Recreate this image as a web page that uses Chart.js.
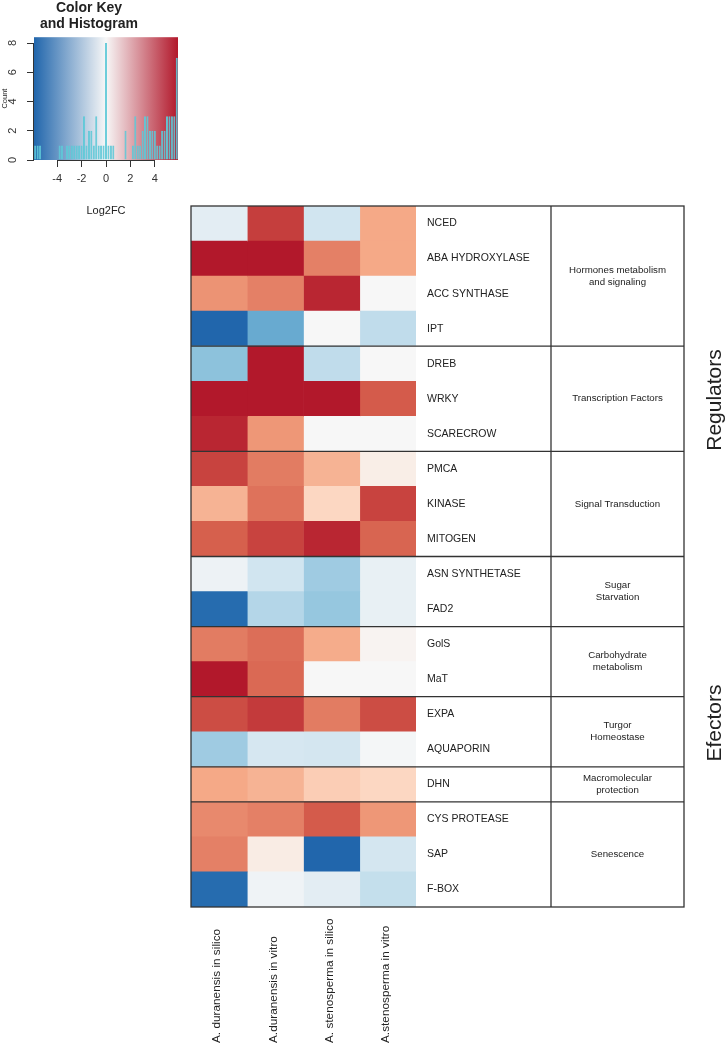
<!DOCTYPE html>
<html>
<head>
<meta charset="utf-8">
<script src="https://cdn.jsdelivr.net/npm/chart.js@4.4.1/dist/chart.umd.min.js"></script>
<style>
  html, body { margin: 0; padding: 0; background: #fff; }
  #wrap { position: relative; width: 728px; height: 1046px; overflow: hidden; }
  canvas { position: absolute; left: 0; top: 0; }
</style>
</head>
<body>
<div id="wrap">
  <canvas id="heat" width="728" height="1046"></canvas>
  <canvas id="key" width="212" height="222"></canvas>
</div>
<script>
// genes (rows, top to bottom)
const genes = ['NCED', 'ABA HYDROXYLASE', 'ACC SYNTHASE', 'IPT', 'DREB', 'WRKY', 'SCARECROW',
  'PMCA', 'KINASE', 'MITOGEN', 'ASN SYNTHETASE', 'FAD2', 'GolS', 'MaT', 'EXPA', 'AQUAPORIN',
  'DHN', 'CYS PROTEASE', 'SAP', 'F-BOX'];

const columns = ['A. duranensis in silico', 'A.duranensis in vitro',
  'A. stenosperma in silico', 'A.stenosperma in vitro'];

// log2FC per column
const aDurSilico  = [-0.8, 6.0, 3.4, -6.0, -3.1, 6.0, 5.7, 5.1, 2.6, 4.5, -0.4, -5.8, 3.9, 6.0, 4.9, -2.7, 2.9, 3.6, 3.8, -5.8];
const aDurVitro   = [5.2, 6.0, 3.8, -3.8, 6.0, 6.0, 3.3, 3.9, 4.1, 5.1, -1.5, -2.2, 4.2, 4.3, 5.3, -1.3, 2.6, 3.8, 0.6, -0.3];
const aStenSilico = [-1.5, 3.8, 5.7, 0.0, -1.9, 6.0, 0.0, 2.6, 1.6, 5.7, -2.7, -2.9, 2.8, 0.0, 3.9, -1.4, 1.9, 4.6, -6.0, -0.8];
const aStenVitro  = [2.9, 2.9, 0.0, -1.9, 0.0, 4.6, 0.0, 0.5, 5.1, 4.4, -0.6, -0.6, 0.2, 0.0, 4.9, -0.1, 1.6, 3.3, -1.4, -1.8];

// functional groups (label lines, number of genes)
const groupNames = [['Hormones metabolism', 'and signaling'], ['Transcription Factors'], ['Signal Transduction'],
  ['Sugar', 'Starvation'], ['Carbohydrate', 'metabolism'], ['Turgor', 'Homeostase'],
  ['Macromolecular', 'protection'], ['Senescence']];
const groupSizes = [4, 3, 3, 2, 2, 2, 1, 3];
const blockNames = ['Regulators', 'Efectors'];

// colour key histogram
const histBins = [-5.8, -5.6, -5.4, -5.2, -5.0, -4.8, -4.6, -4.4, -4.2, -4.0, -3.8, -3.6, -3.4, -3.2, -3.0,
  -2.8, -2.6, -2.4, -2.2, -2.0, -1.8, -1.6, -1.4, -1.2, -1.0, -0.8, -0.6, -0.4, -0.2, 0,
  0.2, 0.4, 0.6, 0.8, 1.0, 1.2, 1.4, 1.6, 1.8, 2.0, 2.2, 2.4, 2.6, 2.8, 3.0, 3.2, 3.4, 3.6, 3.8,
  4.0, 4.2, 4.4, 4.6, 4.8, 5.0, 5.2, 5.4, 5.6, 5.8];
const histCounts = [1, 1, 1, 0, 0, 0, 0, 0, 0, 0, 1, 1, 0, 1, 1, 1, 1, 1, 1, 1, 3, 1, 2, 2, 1, 3, 1, 1, 1, 8,
  1, 1, 1, 0, 0, 0, 0, 2, 0, 0, 1, 3, 1, 1, 2, 3, 3, 2, 2, 2, 1, 1, 2, 2, 3, 3, 3, 3, 7];
const keyTicksX = [-4, -2, 0, 2, 4];
const keyTicksY = [0, 2, 4, 6, 8];

const rdbu = ['#2166ac', '#4393c3', '#92c5de', '#d1e5f0', '#f7f7f7', '#fddbc7', '#f4a582', '#d6604d', '#b2182b'];
const keyRamp = ['#2166ac', '#f7f7f7', '#b2182b'];
const FONT = '"Liberation Sans", Arial, Helvetica, sans-serif';
Chart.defaults.font.family = FONT;

function hex(c) { return [1, 3, 5].map(i => parseInt(c.substr(i, 2), 16)); }
function colorFor(v) {
  const t = (Math.max(-6, Math.min(6, v)) + 6) / 12 * (rdbu.length - 1);
  const i = Math.min(Math.floor(t), rdbu.length - 2);
  const f = t - i;
  const a = hex(rdbu[i]), b = hex(rdbu[i + 1]);
  return 'rgb(' + a.map((x, k) => Math.round(x + (b[k] - x) * f)).join(',') + ')';
}

const series = [aDurSilico, aDurVitro, aStenSilico, aStenVitro];

const overlay = {
  id: 'overlay',
  afterDraw(chart) {
    const { ctx, chartArea: a, scales: { x } } = chart;
    const rowH = (a.bottom - a.top) / genes.length;
    const right = 684, sep = 551;
    ctx.save();
    ctx.strokeStyle = '#333';
    ctx.lineWidth = 1.3;
    ctx.strokeRect(a.left, a.top, right - a.left, a.bottom - a.top);
    ctx.beginPath();
    ctx.moveTo(sep, a.top); ctx.lineTo(sep, a.bottom);
    ctx.stroke();

    ctx.fillStyle = '#222';
    ctx.textAlign = 'center';
    ctx.textBaseline = 'middle';
    ctx.font = '9.7px ' + FONT;
    let k = 0;
    groupSizes.forEach((n, g) => {
      const y0 = a.top + k * rowH;
      k += n;
      const y1 = a.top + k * rowH;
      if (k < genes.length) {
        ctx.beginPath();
        ctx.moveTo(a.left, y1); ctx.lineTo(right, y1);
        ctx.stroke();
      }
      const lines = groupNames[g];
      const cy = (y0 + y1) / 2;
      lines.forEach((t, j) => {
        ctx.fillText(t, (sep + right) / 2, cy + (j - (lines.length - 1) / 2) * 12);
      });
    });

    // column labels
    ctx.font = '11.8px ' + FONT;
    ctx.textAlign = 'left';
    columns.forEach((c, i) => {
      ctx.save();
      ctx.translate(x.getPixelForValue(i + 0.5) - 2, 1043);
      ctx.rotate(-Math.PI / 2);
      ctx.fillText(c, 0, 0);
      ctx.restore();
    });

    // block labels
    ctx.font = '21px ' + FONT;
    ctx.textAlign = 'center';
    [400, 723].forEach((yy, i) => {
      ctx.save();
      ctx.translate(715, yy);
      ctx.rotate(-Math.PI / 2);
      ctx.fillText(blockNames[i], 0, 0);
      ctx.restore();
    });
    ctx.restore();
  }
};

new Chart(document.getElementById('heat'), {
  type: 'bar',
  data: {
    labels: genes,
    datasets: series.map((vals, c) => ({
      label: columns[c],
      data: vals.map(() => [c, c + 1]),
      backgroundColor: vals.map(colorFor),
      borderWidth: 0,
      grouped: false,
      barPercentage: 1,
      categoryPercentage: 1
    }))
  },
  options: {
    indexAxis: 'y',
    responsive: false,
    animation: false,
    layout: { padding: { left: 191, top: 206, right: 177, bottom: 139 } },
    plugins: { legend: { display: false }, tooltip: { enabled: false } },
    scales: {
      x: { type: 'linear', min: 0, max: 4, display: false },
      y: {
        position: 'right',
        grid: { display: false, drawTicks: false },
        border: { display: false },
        ticks: { font: { size: 10.5 }, color: '#222', padding: 11, autoSkip: false },
        afterFit: s => { s.width = 135; }
      }
    }
  },
  plugins: [overlay]
});

const keyBg = {
  id: 'keyBg',
  beforeDatasetsDraw(chart) {
    const { ctx, chartArea: a, scales: { x } } = chart;
    const g = ctx.createLinearGradient(x.getPixelForValue(-5.9), 0, x.getPixelForValue(5.9), 0);
    keyRamp.forEach((c, i) => g.addColorStop(i / (keyRamp.length - 1), c));
    ctx.save();
    ctx.fillStyle = g;
    ctx.fillRect(a.left, a.top, a.right - a.left, a.bottom - a.top);
    ctx.restore();
  },
  afterDraw(chart) {
    const { ctx, chartArea: a, scales: { x, y } } = chart;
    ctx.save();
    ctx.strokeStyle = '#333';
    ctx.lineWidth = 1;
    ctx.beginPath();
    ctx.moveTo(x.getPixelForValue(keyTicksX[0]), a.bottom + 0.5);
    ctx.lineTo(x.getPixelForValue(keyTicksX[keyTicksX.length - 1]), a.bottom + 0.5);
    ctx.moveTo(a.left - 0.5, y.getPixelForValue(keyTicksY[0]));
    ctx.lineTo(a.left - 0.5, y.getPixelForValue(keyTicksY[keyTicksY.length - 1]));
    ctx.stroke();
    ctx.restore();
  }
};

new Chart(document.getElementById('key'), {
  type: 'bar',
  data: {
    datasets: [{
      data: histBins.map((b, i) => ({ x: b, y: histCounts[i] || null })),
      backgroundColor: 'rgba(0,0,0,0)',
      borderColor: 'rgba(95, 200, 215, 0.95)',
      borderWidth: 1,
      borderSkipped: 'start',
      barPercentage: 0.85,
      categoryPercentage: 1
    }]
  },
  options: {
    responsive: false,
    animation: false,
    layout: { padding: { left: 0, right: 34, top: 0, bottom: 0 } },
    plugins: {
      legend: { display: false },
      tooltip: { enabled: false },
      title: {
        display: true,
        text: ['Color Key', 'and Histogram'],
        color: '#222',
        font: { size: 14, weight: 'bold', lineHeight: 1.15 },
        padding: { top: 0, bottom: 5 }
      }
    },
    scales: {
      x: {
        type: 'linear', min: -5.9, max: 5.9, offset: false,
        afterBuildTicks: s => { s.ticks = keyTicksX.map(v => ({ value: v })); },
        afterFit: s => { s.height = 62; },
        grid: { drawOnChartArea: false, offset: false, tickLength: 7, color: '#333' },
        border: { display: false },
        ticks: { font: { size: 11 }, color: '#333', padding: 5, maxRotation: 0 },
        title: { display: true, text: 'Log2FC', color: '#222', font: { size: 11 }, padding: { top: 0, bottom: 4 } }
      },
      y: {
        min: 0, max: 8.4,
        afterBuildTicks: s => { s.ticks = keyTicksY.map(v => ({ value: v })); },
        afterFit: s => { s.width = 34; },
        grid: { drawOnChartArea: false, tickLength: 7, color: '#333' },
        border: { display: false },
        ticks: { font: { size: 11 }, color: '#333', minRotation: 90, maxRotation: 90, crossAlign: 'center', padding: 11 },
        title: { display: true, text: 'Count', color: '#222', font: { size: 7.5 }, padding: 0 }
      }
    }
  },
  plugins: [keyBg]
});
</script>
</body>
</html>
